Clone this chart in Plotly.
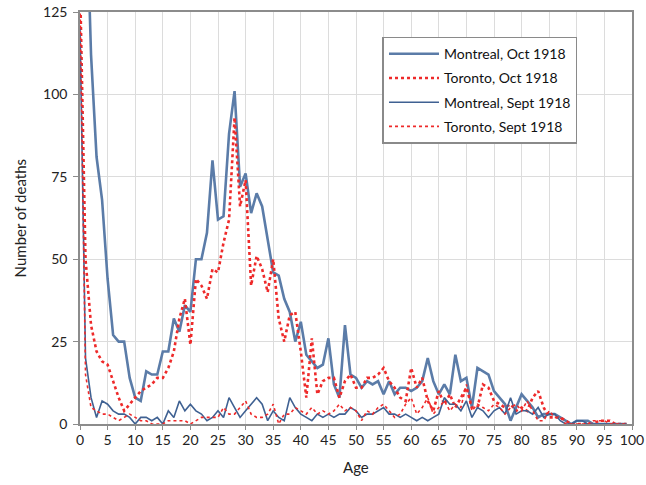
import plotly.graph_objects as go

ages = list(range(100))

montreal_oct = [140, 168, 112, 81, 68, 44, 27, 25, 25, 14,
                8, 7, 16, 15, 15, 22, 22, 32, 28, 36,
                34, 50, 50, 58, 80, 62, 63, 88, 101, 72,
                76, 64, 70, 66, 56, 46, 45, 38, 34, 25,
                31, 21, 19, 17, 18, 26, 12, 8, 30, 15,
                14, 11, 13, 12, 13, 9, 13, 9, 11, 11,
                10, 11, 13, 20, 13, 9, 12, 9, 21, 13,
                14, 5, 17, 16, 15, 10, 8, 6, 1, 5,
                9, 7, 5, 2, 3, 3, 3, 2, 1, 0,
                1, 1, 1, 0, 0, 0, 0, 0, 0, 0]

toronto_oct = [135, 50, 30, 22, 19, 18, 13, 8, 4, 6,
               8, 10, 11, 12, 14, 14, 17, 22, 32, 38,
               24, 44, 42, 38, 47, 46, 55, 62, 93, 66,
               74, 42, 51, 47, 40, 50, 32, 25, 33, 34,
               22, 8, 26, 9, 13, 14, 14, 8, 13, 15,
               11, 11, 14, 14, 15, 17, 13, 11, 8, 7,
               17, 11, 14, 7, 4, 10, 6, 9, 5, 8,
               11, 5, 5, 12, 11, 7, 6, 5, 6, 4,
               5, 4, 8, 10, 5, 2, 2, 2, 1, 0,
               0, 0, 0, 0, 1, 1, 1, 0, 0, 0]

montreal_sept = [120, 20, 8, 2, 7, 6, 4, 3, 3, 2,
                 0, 2, 2, 1, 2, 0, 4, 2, 7, 4,
                 6, 4, 3, 1, 2, 4, 2, 8, 5, 2,
                 4, 6, 8, 6, 1, 4, 2, 1, 8, 5,
                 3, 2, 1, 3, 2, 3, 2, 3, 3, 5,
                 4, 2, 3, 3, 4, 5, 3, 3, 2, 3,
                 2, 1, 2, 1, 2, 3, 8, 6, 6, 4,
                 7, 2, 5, 4, 2, 4, 5, 3, 8, 3,
                 4, 4, 3, 5, 2, 3, 3, 1, 0, 0,
                 1, 1, 0, 0, 0, 0, 0, 0, 0, 0]

toronto_sept = [130, 15, 5, 4, 3, 3, 2, 1, 2, 3,
                2, 1, 1, 0, 0, 0, 1, 1, 1, 1,
                0, 1, 2, 2, 2, 2, 5, 3, 3, 5,
                7, 3, 2, 2, 3, 6, 0, 3, 3, 5,
                4, 3, 5, 3, 4, 3, 4, 6, 4, 5,
                4, 1, 4, 3, 5, 6, 4, 2, 3, 6,
                8, 3, 5, 8, 3, 5, 7, 4, 6, 5,
                12, 4, 6, 5, 4, 6, 5, 3, 5, 6,
                4, 7, 4, 1, 1, 4, 2, 2, 0, 0,
                0, 0, 0, 1, 1, 1, 0, 0, 0, 0]

x_ticks = list(range(0, 101, 5))
y_ticks = [0, 25, 50, 75, 100, 125]

blue = "#5b7ca8"
blue_dark = "#3f6192"
red = "#ee2a2a"

fig = go.Figure()
fig.add_trace(go.Scatter(x=ages, y=montreal_oct, mode="lines", name="Montreal, Oct 1918",
                         line=dict(color=blue, width=2.6), legendgroup="a"))
fig.add_trace(go.Scatter(x=ages, y=toronto_oct, mode="lines", name="Toronto, Oct 1918",
                         line=dict(color=red, width=2.6, dash="dot"), legendgroup="b"))
fig.add_trace(go.Scatter(x=ages, y=montreal_sept, mode="lines", name="Montreal, Sept 1918",
                         line=dict(color=blue_dark, width=1.6), legendgroup="c"))
fig.add_trace(go.Scatter(x=ages, y=toronto_sept, mode="lines", name="Toronto, Sept 1918",
                         line=dict(color=red, width=1.6, dash="dot"), legendgroup="d"))

fig.update_layout(
    width=646, height=485,
    margin=dict(l=80, r=14, t=12, b=61, autoexpand=False),
    paper_bgcolor="white", plot_bgcolor="white",
    font=dict(family="Lato, Open Sans, Liberation Sans, sans-serif", size=14, color="#222"),
    legend=dict(x=0.548, y=0.94, xanchor="left", yanchor="top",
                bgcolor="white", bordercolor="#8a8a8a", borderwidth=1.5,
                font=dict(size=14, color="#111"), tracegroupgap=3, itemwidth=50),
    showlegend=True,
    annotations=[
        dict(text="Age", xref="paper", yref="paper", x=0.5, y=-0.104,
             showarrow=False, xanchor="center", yanchor="middle", font=dict(size=15)),
        dict(text="Number of deaths", xref="paper", yref="paper", x=-0.108, y=0.5,
             showarrow=False, xanchor="center", yanchor="middle", textangle=-90,
             font=dict(size=15)),
    ],
)
fig.update_xaxes(range=[0, 100], tickvals=x_ticks, ticktext=[str(v) for v in x_ticks],
                 showgrid=True, gridcolor="#dcdcdc", gridwidth=1, automargin=False,
                 showline=True, linecolor="#8c8c8c", linewidth=1.5, mirror=True,
                 ticks="outside", ticklen=4, tickcolor="#8c8c8c", ticklabelstandoff=-2,
                 zeroline=False)
fig.update_yaxes(range=[0, 125], tickvals=y_ticks, ticktext=[str(v) for v in y_ticks],
                 showgrid=True, gridcolor="#dcdcdc", gridwidth=1, automargin=False,
                 showline=True, linecolor="#8c8c8c", linewidth=1.5, mirror=True,
                 ticks="outside", ticklen=5, tickcolor="#8c8c8c", ticklabelstandoff=3,
                 zeroline=False)

fig.write_html("out.html", config={"displayModeBar": False},
               post_script="document.body.style.margin='0';")
